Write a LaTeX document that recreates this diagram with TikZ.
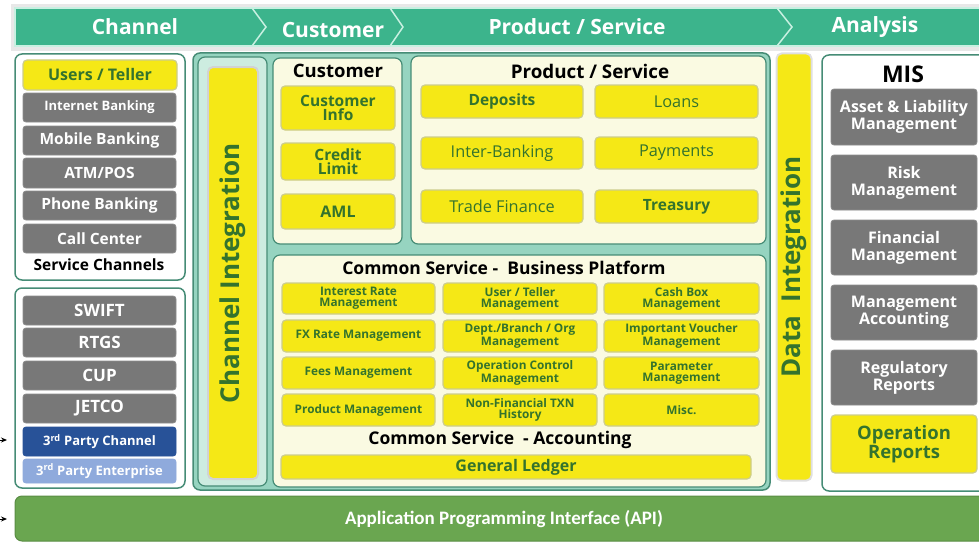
\documentclass[tikz,border=0pt]{standalone}
\usepackage{fontspec}
\setmainfont{Open Sans}
\newfontfamily\apifont{Carlito}
\usetikzlibrary{arrows.meta}
\definecolor{hdr}{RGB}{60,180,140}
\definecolor{hdrline}{RGB}{200,240,225}
\definecolor{tealb}{RGB}{70,140,118}
\definecolor{framefill}{RGB}{150,212,192}
\definecolor{cifill}{RGB}{205,236,224}
\definecolor{cream}{RGB}{250,250,226}
\definecolor{yel}{RGB}{245,232,22}
\definecolor{yelb}{RGB}{205,205,140}
\definecolor{dgreen}{RGB}{52,115,45}
\definecolor{gry}{RGB}{120,120,120}
\definecolor{dblue}{RGB}{40,82,152}
\definecolor{lblue}{RGB}{143,170,220}
\definecolor{apigreen}{RGB}{106,166,80}
\newcommand\bx[7]{\node[#2, minimum width={(#5)-(#3)}, minimum height={(#6)-(#4)}] (#1) at ({((#3)+(#5))/2},{((#4)+(#6))/2}) {#7};}
\begin{document}
\begin{tikzpicture}[x=1pt,y=-1pt,
  panel/.style={draw=tealb, line width=1.5pt, rounded corners=7pt, inner sep=0pt},
  ybox/.style={fill=yel, draw=yelb, line width=1.2pt, rounded corners=4pt, text=dgreen, align=center, inner sep=0pt},
  gbox/.style={fill=gry, draw=gry!85!white, line width=0.8pt, rounded corners=3pt, text=white, align=center, inner sep=0pt},
  ttl/.style={text=black, font=\bfseries\fontsize{17.5}{17.5}\selectfont, inner sep=0pt},
  hdrtxt/.style={text=white, font=\bfseries\fontsize{21}{21}\selectfont, inner sep=0pt},
  fa/.style={font=\bfseries\fontsize{15.5}{16}\selectfont},
  fg/.style={font=\bfseries\fontsize{17}{17}\selectfont},
  fb/.style={font=\bfseries\fontsize{13}{13}\selectfont},
  fc/.style={font=\bfseries\fontsize{11.8}{11}\selectfont},
  fr/.style={font=\fontsize{16.3}{17}\selectfont},
  fm/.style={font=\bfseries\fontsize{16}{17}\selectfont},
  arr/.style={-{Stealth[length=6pt,width=5pt]}, line width=0.9pt}
]
\useasboundingbox (0,0) rectangle (979,543);
% header
\fill[gray!18] (11,4) rectangle (979,51);
\bx{hdrband}{fill=hdr, draw=hdrline, line width=1.2pt, inner sep=0pt}{15}{8}{985}{46}{}
\draw[hdrline, line width=1.5pt] (252,8) -- (266,27) -- (252,46);
\draw[hdrline, line width=1.5pt] (390,8) -- (403,27) -- (390,46);
\draw[hdrline, line width=1.5pt] (777,8) -- (792,27) -- (777,46);
\node[hdrtxt] (hch) at (135,27) {Channel};
\node[hdrtxt] (hcu) at (333,30) {Customer};
\node[hdrtxt] (hps) at (577,27) {Product / Service};
\node[hdrtxt] (han) at (875,27) {Analysis};
% left panel 1
\bx{lp1}{panel, fill=white}{15}{54}{185}{280}{}
\bx{users}{ybox, font=\bfseries\fontsize{16}{16}\selectfont}{23}{60}{177}{90}{Users / Teller}
\bx{ib}{gbox, fb}{23}{93}{176}{122}{Internet Banking}
\bx{mb}{gbox, fa}{23}{126}{176}{155}{Mobile Banking}
\bx{atm}{gbox, fa}{23}{158}{176}{188}{ATM/POS}
\bx{pb}{gbox, fa}{23}{191}{176}{220}{Phone Banking}
\bx{cc}{gbox, fa}{23}{224}{176}{253}{Call Center}
\node[ttl, font=\bfseries\fontsize{15.5}{15.5}\selectfont] (sc) at (99,265) {Service Channels};
% left panel 2
\bx{lp2}{panel, fill=white}{15}{288}{185}{488}{}
\bx{swift}{gbox, fg}{23}{296}{176}{325}{SWIFT}
\bx{rtgs}{gbox, fg}{23}{328}{176}{357}{RTGS}
\bx{cup}{gbox, fg}{23}{361}{176}{390}{CUP}
\bx{jetco}{gbox, fg}{23}{394}{176}{423}{JETCO}
\bx{tpc}{gbox, fill=dblue, draw=dblue, font=\bfseries\fontsize{13}{13}\selectfont}{23}{427}{176}{456}{3\textsuperscript{rd} Party Channel}
\bx{tpe}{gbox, fill=lblue, draw=lblue, font=\bfseries\fontsize{13}{13}\selectfont}{23}{459}{176}{483}{3\textsuperscript{rd} Party Enterprise}
% arrows at left
\coordinate (a1s) at (-3,440);
\coordinate (a1e) at (7,440);
\coordinate (a2s) at (-3,519);
\coordinate (a2e) at (7,519);
\draw[arr] (a1s) -- (a1e);
\draw[arr] (a2s) -- (a2e);
% API
\bx{api}{fill=apigreen, draw=apigreen!85!black, line width=1pt, rounded corners=7pt, inner sep=0pt}{15}{496}{990}{541}{}
\node[text=white, font=\apifont\bfseries\fontsize{19}{19}\selectfont] (apitxt) at (504,519) {Application Programming Interface (API)};
% big frame
\bx{frame}{panel, fill=framefill}{193}{53}{770}{490}{}
\bx{cipanel}{panel, fill=cifill, line width=1.2pt}{198}{57}{267}{486}{}
\node[fill=yel, draw=gray!35, line width=2pt, rounded corners=5pt, rotate=90, minimum width=412, minimum height=50, inner sep=0pt, text=dgreen, font=\bfseries\fontsize{26}{26}\selectfont] (ci) at (233,273) {Channel Integration};
% customer panel
\bx{custp}{panel, fill=cream, line width=1.2pt}{273}{58}{402}{244}{}
\node[ttl, font=\bfseries\fontsize{18.5}{18.5}\selectfont] (custt) at (338,71) {Customer};
\bx{cinfo}{ybox, font=\bfseries\fontsize{15.5}{14.5}\selectfont}{281}{86}{395}{130}{Customer\\Info}
\bx{climit}{ybox, font=\bfseries\fontsize{15.5}{14.5}\selectfont}{281}{143}{395}{180}{Credit\\Limit}
\bx{aml}{ybox, font=\bfseries\fontsize{16}{16}\selectfont}{281}{194}{395}{229}{AML}
% product panel
\bx{prodp}{panel, fill=cream, line width=1.2pt}{411}{56}{766}{244}{}
\node[ttl, font=\bfseries\fontsize{18.8}{18.8}\selectfont] (prodt) at (590,71) {Product / Service};
\bx{dep}{ybox, fa}{421}{85}{583}{118}{Deposits}
\bx{loans}{ybox, fr}{595}{85}{758}{118}{Loans}
\bx{interb}{ybox, fr}{421}{137}{583}{169}{Inter-Banking}
\bx{paym}{ybox, fr}{595}{137}{758}{169}{Payments}
\bx{trade}{ybox, fr}{421}{190}{583}{223}{Trade Finance}
\bx{treas}{ybox, fa}{595}{190}{758}{223}{Treasury}
% common service panel
\bx{comp}{panel, fill=cream, line width=1.2pt}{273}{255}{766}{487}{}
\node[ttl] (comt) at (504,268) {Common Service -\ \ Business Platform};
\bx{c11}{ybox, fc}{282}{283}{435}{314}{Interest Rate\\Management}
\bx{c12}{ybox, fc}{443}{283}{597}{314}{User / Teller\\Management}
\bx{c13}{ybox, fc}{604}{283}{759}{314}{Cash Box\\Management}
\bx{c21}{ybox, fc}{282}{320}{435}{352}{FX Rate Management}
\bx{c22}{ybox, fc}{443}{320}{597}{352}{Dept./Branch / Org\\Management}
\bx{c23}{ybox, fc}{604}{320}{759}{352}{Important Voucher\\Management}
\bx{c31}{ybox, fc}{282}{357}{435}{389}{Fees Management}
\bx{c32}{ybox, fc}{443}{357}{597}{389}{Operation Control\\Management}
\bx{c33}{ybox, fc}{604}{357}{759}{389}{Parameter\\Management}
\bx{c41}{ybox, fc}{282}{394}{435}{426}{Product Management}
\bx{c42}{ybox, fc}{443}{394}{597}{426}{Non-Financial TXN\\History}
\bx{c43}{ybox, fc}{604}{394}{759}{426}{Misc.}
\node[ttl] (acct) at (500,440) {Common Service\ \ - Accounting};
\bx{gl}{ybox, font=\bfseries\fontsize{16}{16}\selectfont}{281}{455}{751}{479}{General Ledger}
% data integration
\node[fill=yel, draw=gray!25, line width=2pt, rounded corners=5pt, rotate=90, minimum width=427, minimum height=35, inner sep=0pt, text=dgreen, font=\bfseries\fontsize{26}{26}\selectfont] (di) at (794,267) {Data\ \ Integration};
% MIS
\bx{mis}{panel, fill=white}{822}{55}{990}{491}{}
\node[ttl, font=\bfseries\fontsize{23}{23}\selectfont] (mist) at (903,74) {MIS};
\bx{alm}{gbox, fm}{831}{89}{977}{145}{Asset \& Liability\\Management}
\bx{risk}{gbox, fm}{831}{155}{977}{210}{Risk\\Management}
\bx{fin}{gbox, fm}{831}{220}{977}{275}{Financial\\Management}
\bx{macc}{gbox, fm}{831}{285}{977}{340}{Management\\Accounting}
\bx{reg}{gbox, fm}{831}{350}{977}{405}{Regulatory\\Reports}
\bx{oprep}{ybox, font=\bfseries\fontsize{18.5}{19}\selectfont}{831}{415}{977}{473}{Operation\\Reports}
\end{tikzpicture}
\end{document}
